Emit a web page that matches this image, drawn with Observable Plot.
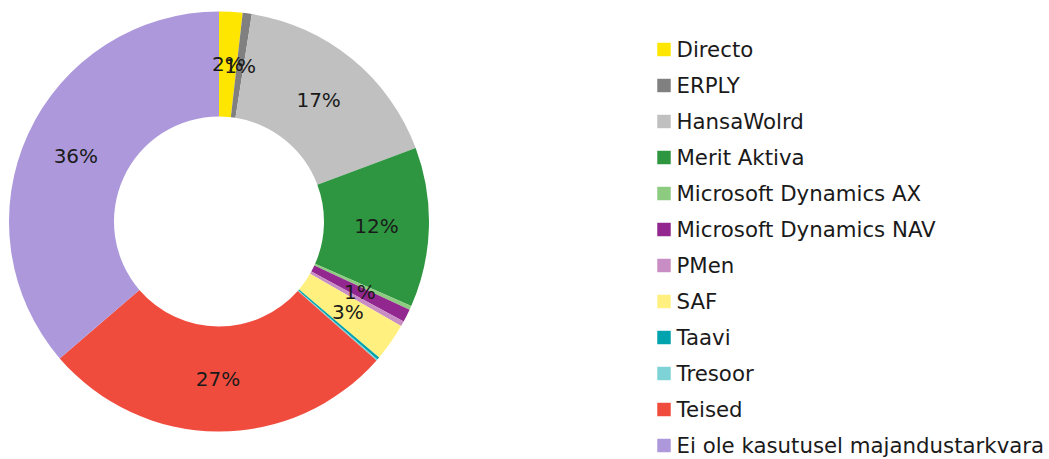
<!DOCTYPE html>
<html>
<head>
<meta charset="utf-8">
<script src="https://cdn.jsdelivr.net/npm/d3@7"></script>
<script src="https://cdn.jsdelivr.net/npm/@observablehq/plot@0.6"></script>
<style>
  html, body { margin: 0; padding: 0; background: #fff; }
  #chart svg { display: block; }
</style>
</head>
<body>
<div id="chart"></div>
<script>
// Categories (legend order = slice order, clockwise from 12 o'clock)
const names = [
  "Directo", "ERPLY", "HansaWolrd", "Merit Aktiva", "Microsoft Dynamics AX",
  "Microsoft Dynamics NAV", "PMen", "SAF", "Taavi", "Tresoor", "Teised",
  "Ei ole kasutusel majandustarkvara"
];
// Shares in percent
const shares = [1.8, 0.7, 16.8, 12.3, 0.3, 1.0, 0.4, 2.9, 0.2, 0.1, 27.2, 36.3];
// Slice colours
const colors = [
  "#FFE600", "#808080", "#C0C0C0", "#2E9640", "#8DCB80",
  "#91278F", "#C88DC4", "#FFF080", "#00A3AE", "#7ED3D6",
  "#F04C3E", "#AC98DB"
];

const data = names.map((name, i) => ({name, share: shares[i]}));

function donut(index, scales, values, dimensions) {
  const cx = 219, cy = 221.5, R = 210, r0 = 105;
  const arcs = d3.pie().sort(null).value(d => d.share)(data);
  const arc = d3.arc().innerRadius(r0).outerRadius(R);
  const g = d3.create("svg:g").attr("transform", `translate(${cx},${cy})`);
  g.append("g").selectAll("path").data(arcs).join("path")
    .attr("d", arc)
    .attr("fill", d => scales.color(d.data.name));
  g.append("g")
    .attr("font-family", "DejaVu Sans")
    .attr("font-size", 20)
    .attr("fill", "#1a1a1a")
    .attr("text-anchor", "middle")
    .selectAll("text").data(arcs.filter(d => Math.round(d.data.share) >= 1)).join("text")
    .attr("transform", d => `translate(${arc.centroid(d)})`)
    .attr("dy", "0.36em")
    .text(d => Math.round(d.data.share) + "%");
  return g.node();
}

const chart = Plot.plot({
  width: 1049,
  height: 459,
  margin: 0,
  style: {fontFamily: "DejaVu Sans", background: "#fff", overflow: "visible"},
  y: {type: "point", domain: names, range: [46.5, 447.5], padding: 0, axis: null},
  color: {type: "ordinal", domain: names, range: colors},
  marks: [
    donut,
    Plot.dot(data, {
      y: "name", fill: "name", symbol: "square", r: 7.6,
      frameAnchor: "left", dx: 663.5
    }),
    Plot.text(data, {
      y: "name", text: "name", frameAnchor: "left", dx: 676,
      textAnchor: "start", fontSize: 21.3, fill: "#1a1a1a", dy: 1
    })
  ]
});
document.getElementById("chart").appendChild(chart);
</script>
</body>
</html>
